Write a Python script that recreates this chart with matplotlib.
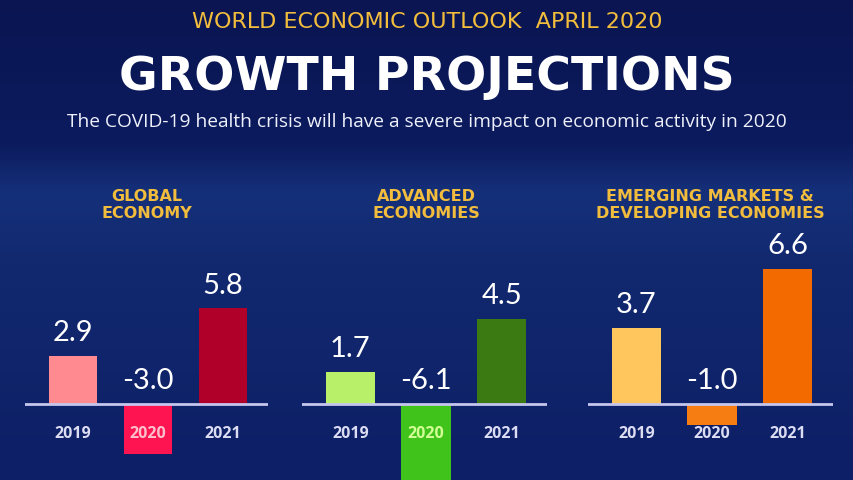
import numpy as np
import matplotlib.pyplot as plt
from matplotlib.colors import LinearSegmentedColormap

years = ['2019', '2020', '2021']
panel_titles = ['GLOBAL\nECONOMY', 'ADVANCED\nECONOMIES',
                'EMERGING MARKETS &\nDEVELOPING ECONOMIES']
global_vals = [2.9, -3.0, 5.8]
advanced_vals = [1.7, -6.1, 4.5]
emerging_vals = [3.7, -1.0, 6.6]

W, H = 854, 480
fig = plt.figure(figsize=(W / 100, H / 100), dpi=100)

# background gradient
bg = fig.add_axes([0, 0, 1, 1], zorder=-10)
cmap = LinearSegmentedColormap.from_list(
    'navy', [(0, '#0a1552'), (0.3, '#0c1b5e'), (0.4, '#15307a'),
             (0.55, '#12296f'), (1, '#0d1f66')])
grad = np.linspace(0, 1, 256).reshape(-1, 1)
bg.imshow(grad, aspect='auto', cmap=cmap, extent=[0, 1, 0, 1], origin='upper')
bg.set_axis_off()

gold = '#f2bd3c'
fig.text(0.5, 1 - 22 / H, 'WORLD ECONOMIC OUTLOOK  APRIL 2020', color=gold,
         ha='center', va='center', fontsize=16, family='DejaVu Sans')
fig.text(0.5, 1 - 77 / H, 'GROWTH PROJECTIONS', color='white',
         ha='center', va='center', fontsize=34, family='DejaVu Sans', weight='bold')
fig.text(0.5, 1 - 122 / H,
         'The COVID-19 health crisis will have a severe impact on economic activity in 2020',
         color='#eef0fa', ha='center', va='center', fontsize=13.8, family='Open Sans')

panels = [
    (global_vals, 25, 268, 16.5, ['#ff8a90', '#ff1452', '#b0002a'], '#ffc0cc', 147, panel_titles[0]),
    (advanced_vals, 302, 547, 19.0, ['#b9f06a', '#40c41c', '#3b7a12'], '#d4ff96', 426, panel_titles[1]),
    (emerging_vals, 588, 833, 20.5, ['#ffc65e', '#f57d12', '#f26a00'], '#dcdcf2', 710, panel_titles[2]),
]

zero_px = 404
top_px = 170
for vals, x0, x1, s, colors, col2020, tx, title in panels:
    ax = fig.add_axes([x0 / W, 0, (x1 - x0) / W, (H - top_px) / H])
    ax.set_xlim(-0.64, 2.6)
    ax.set_ylim(-(H - zero_px) / s, (zero_px - top_px) / s)
    ax.set_axis_off()
    x = np.arange(len(years))
    ax.bar(x, vals, width=0.65, color=colors, zorder=2)
    ax.axhline(0, color='#c4c6ee', lw=2, zorder=3)
    for xi, v, yr in zip(x, vals, years):
        ax.annotate(f'{v:.1f}', (xi, max(v, 0)), xytext=(0, 7),
                    textcoords='offset points', ha='center', va='bottom',
                    color='white', fontsize=21, family='Lato', zorder=4)
        yc = '#dcdcf2'
        if yr == '2020':
            yc = col2020
        ax.annotate(yr, (xi, 0), xytext=(0, -21.5), textcoords='offset points',
                    ha='center', va='center', color=yc, fontsize=11.5,
                    family='Open Sans', weight='bold', zorder=4)
    fig.text(tx / W, 1 - 205 / H, title,
             color=gold, ha='center', va='center', fontsize=11.5,
             family='DejaVu Sans', weight='bold', linespacing=1.1)

fig.savefig('out.png', dpi=100)
